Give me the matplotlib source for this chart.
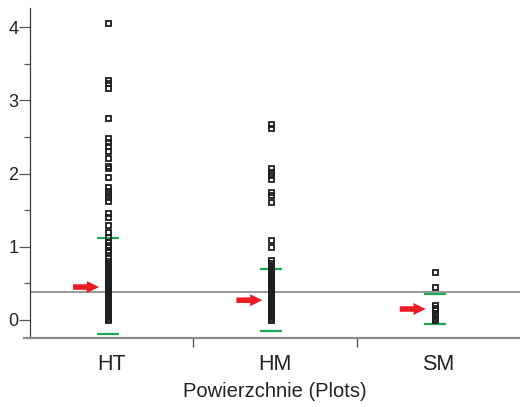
import matplotlib.pyplot as plt
from matplotlib.transforms import offset_copy

plt.rcParams['font.family'] = ['Liberation Sans', 'DejaVu Sans']

plots = ["HT", "HM", "SM"]

# wartości pojedynczych pomiarów dla każdej powierzchni
ht_values = [4.06, 3.28, 3.23, 3.17, 2.76, 2.48, 2.43, 2.37, 2.31, 2.21,
             2.10, 2.07, 1.95, 1.81, 1.76, 1.72, 1.68, 1.62, 1.46, 1.41,
             1.30, 1.20, 1.14, 1.07, 1.03, 1.00, 0.96, 0.93, 0.84,
             0.80, 0.78, 0.76, 0.74, 0.72, 0.70, 0.68, 0.66, 0.64, 0.62,
             0.60, 0.58, 0.56, 0.54, 0.52, 0.50, 0.48, 0.46, 0.44, 0.42,
             0.40, 0.38, 0.36, 0.34, 0.32, 0.30, 0.28, 0.26, 0.24, 0.22,
             0.20, 0.18, 0.16, 0.14, 0.12, 0.10, 0.08, 0.06, 0.04, 0.02,
             0.00]
hm_values = [2.68, 2.62, 2.07, 2.02, 1.98, 1.93, 1.75, 1.71, 1.61, 1.09,
             1.00, 0.82, 0.78,
             0.74, 0.72, 0.70, 0.68, 0.66, 0.64, 0.62, 0.60, 0.58, 0.56,
             0.54, 0.52, 0.50, 0.48, 0.46, 0.44, 0.42, 0.40, 0.38, 0.36,
             0.34, 0.32, 0.30, 0.28, 0.26, 0.24, 0.22, 0.20, 0.18, 0.16,
             0.14, 0.12, 0.10, 0.08, 0.06, 0.04, 0.02, 0.00]
sm_values = [0.65, 0.45, 0.20, 0.17, 0.14, 0.10, 0.07, 0.04, 0.02, 0.00]

# granice (zielone kreski) i średnie (czerwone strzałki)
upper_limits = [1.12, 0.70, 0.35]
lower_limits = [-0.195, -0.15, -0.055]
means = [0.45, 0.27, 0.15]
overall_level = 0.38

fig = plt.figure(figsize=(5.2, 4.07), dpi=100)
ax = fig.add_axes([30 / 520, 1 - 338.3 / 407, 490 / 520, (338.3 - 8) / 407])

shift = -0.022
for i, vals in enumerate([ht_values, hm_values, sm_values]):
    ax.plot([i + shift] * len(vals), vals, ls="none", marker="s",
            markersize=3.6, markerfacecolor="none",
            markeredgecolor="#1e1e1e", markeredgewidth=1.3, zorder=3)
    ax.hlines([upper_limits[i], lower_limits[i]], i + shift - 0.067,
              i + shift + 0.067, color="#1fa855", lw=1.6, zorder=2)

    tip = offset_copy(ax.transData, fig=fig, x=-9, y=0, units="dots")
    ax.annotate("", xy=(i + shift, means[i]), xycoords=tip,
                xytext=(-26, 0), textcoords="offset pixels",
                arrowprops=dict(arrowstyle="simple,head_length=8.8,head_width=8.6,tail_width=4",
                                mutation_scale=1, color="#ec1c24", lw=0,
                                shrinkA=0, shrinkB=0))

ax.axhline(overall_level, color="#9b9b9b", lw=1.5, zorder=1)

ax.set_xlim(-0.5, 2.5)
ax.set_ylim(-0.25, 4.26)

ax.spines["top"].set_visible(False)
ax.spines["right"].set_visible(False)
ax.spines["left"].set_color("#3a3a3a")
ax.spines["left"].set_linewidth(0.9)
ax.spines["bottom"].set_color("#8c8c8c")
ax.spines["bottom"].set_linewidth(1.6)
ax.spines["bottom"].set_bounds(-0.537, 2.5)

ax.set_yticks([0, 1, 2, 3, 4])
ax.set_yticks([0.5, 1.5, 2.5, 3.5], minor=True)
ax.tick_params(axis="y", which="major", length=8, width=0.9, color="#555555",
               pad=0.5, labelsize=13, labelcolor="#222222")
ax.tick_params(axis="y", which="minor", length=4.3, width=0.9, color="#555555")

ax.set_xticks(range(len(plots)))
ax.set_xticklabels(plots)
ax.set_xticks([0.5, 1.5], minor=True)
ax.tick_params(axis="x", which="major", length=0, pad=11.5, labelsize=15.5,
               labelcolor="#222222")
ax.tick_params(axis="x", which="minor", length=6.5, width=0.9, color="#444444")

ax.set_xlabel("Powierzchnie (Plots)", fontsize=14.5, color="#222222", labelpad=5)

fig.savefig("out.png", dpi=100)
